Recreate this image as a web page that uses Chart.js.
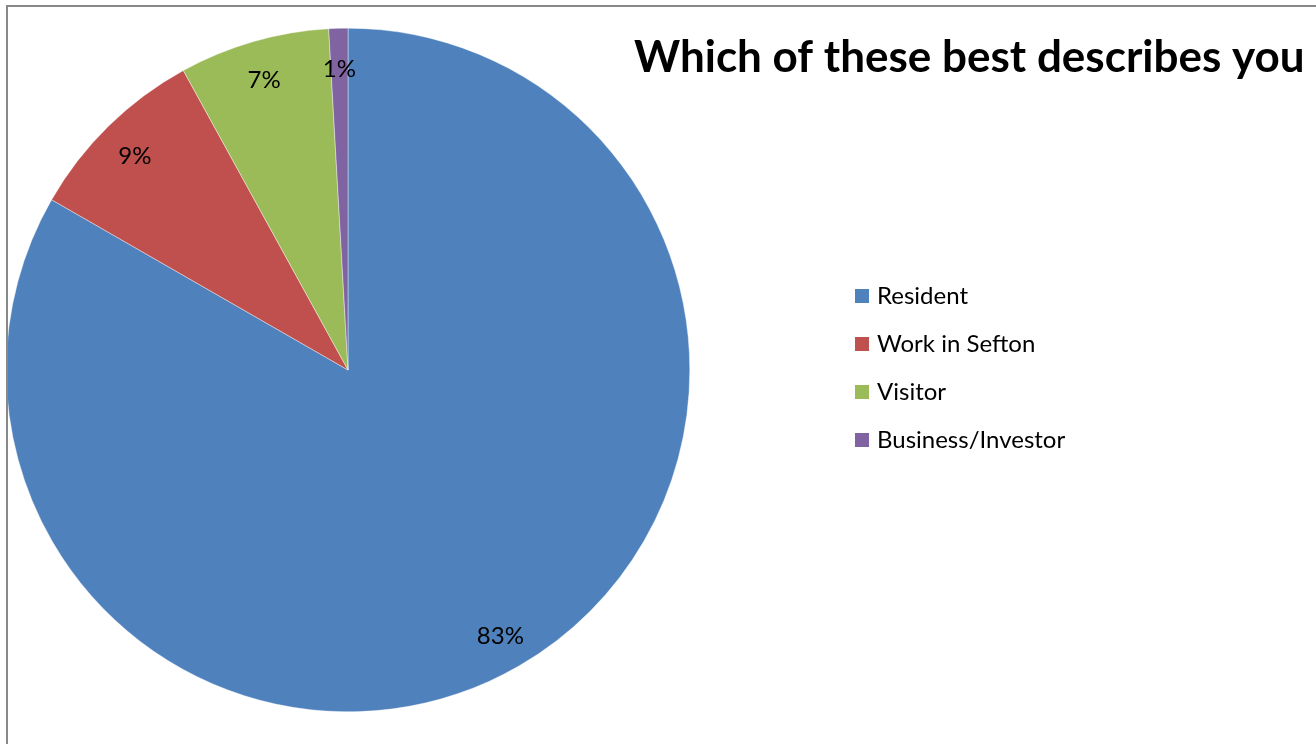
<!DOCTYPE html>
<html>
<head>
<meta charset="utf-8">
<script src="https://cdn.jsdelivr.net/npm/chart.js@4"></script>
<style>
  html, body { margin: 0; padding: 0; background: #fff; overflow: hidden; }
  canvas { display: block; }
</style>
</head>
<body>
<canvas id="chart" width="1316" height="744"></canvas>
<script>
// data
const titleText = "Which of these best describes you";
const categories = ["Resident", "Work in Sefton", "Visitor", "Business/Investor"];
const shares = [83.3, 8.7, 7.1, 0.9];
const pctLabels = ["83%", "9%", "7%", "1%"];
const colours = ["#4F81BD", "#C0504D", "#9BBB59", "#8064A2"];

// title, legend, labels and frame drawn by hand (Excel style)
const excelBits = {
  id: "excelBits",
  afterDraw(chart) {
    const ctx = chart.ctx;
    const meta = chart.getDatasetMeta(0);
    ctx.save();

    // frame
    ctx.strokeStyle = "#888888";
    ctx.lineWidth = 2;
    ctx.beginPath();
    ctx.moveTo(7, 760);
    ctx.lineTo(7, 6);
    ctx.lineTo(1330, 6);
    ctx.stroke();

    // percentage labels, near the rim like Excel
    ctx.fillStyle = "#000";
    ctx.font = "24px Lato";
    ctx.textAlign = "center";
    ctx.textBaseline = "middle";
    meta.data.forEach((arc, i) => {
      const mid = (arc.startAngle + arc.endAngle) / 2;
      const r = arc.outerRadius * 0.89;
      ctx.fillText(pctLabels[i], arc.x + Math.cos(mid) * r, arc.y + Math.sin(mid) * r + 3);
    });

    // title
    ctx.font = "bold 44px Lato";
    ctx.textAlign = "left";
    ctx.textBaseline = "alphabetic";
    ctx.fillText(titleText, 634, 72);

    // legend
    ctx.font = "24px Lato";
    ctx.textBaseline = "middle";
    categories.forEach((c, i) => {
      const y = 296 + i * 48;
      ctx.fillStyle = colours[i];
      ctx.fillRect(855, y - 7, 14, 14);
      ctx.fillStyle = "#000";
      ctx.fillText(c, 877, y);
    });
    ctx.restore();
  }
};

new Chart(document.getElementById("chart").getContext("2d"), {
  type: "pie",
  data: {
    labels: categories,
    datasets: [{
      data: shares,
      backgroundColor: colours,
      borderColor: "#ffffff",
      borderWidth: 0.4
    }]
  },
  options: {
    responsive: false,
    animation: false,
    layout: { padding: { left: 6, top: 28, right: 626, bottom: 32 } },
    plugins: {
      legend: { display: false },
      tooltip: { enabled: false }
    }
  },
  plugins: [excelBits]
});
</script>
</body>
</html>
